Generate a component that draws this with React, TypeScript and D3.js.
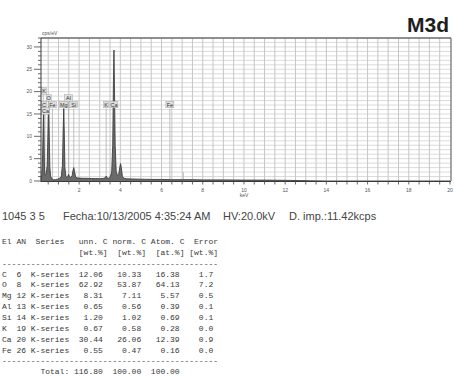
import * as d3 from 'd3'

const title = 'M3d'

// EDS spectrum (keV, cps/eV)
const spectrumKeV = [
  0.15, 0.19, 0.22, 0.25, 0.277, 0.3, 0.32, 0.35, 0.4, 0.45, 0.48, 0.505, 0.525, 0.55, 0.58, 0.62,
  0.68, 0.75, 0.85, 0.95, 1.05, 1.13, 1.19, 1.225, 1.254, 1.28, 1.31, 1.36, 1.42, 1.46, 1.49,
  1.53, 1.6, 1.66, 1.7, 1.74, 1.78, 1.83, 1.9, 2.0, 2.2, 2.4, 2.6, 2.8, 3.0, 3.2, 3.28,
  3.313, 3.35, 3.42, 3.5, 3.58, 3.63, 3.665, 3.691, 3.715, 3.75, 3.8, 3.86, 3.92, 3.97, 4.01,
  4.05, 4.1, 4.18, 4.3, 4.6, 5.0, 5.5, 6.0, 6.5, 7.0, 7.5, 8.0, 9.0, 10.0, 11.0, 12.0, 12.7,
  13.2, 14.0, 16.0, 18.0, 20.0,
]
const spectrumCps = [
  0.3, 1.5, 4.0, 10.5, 15.3, 8.0, 2.6, 1.3, 1.5, 3.5, 9.0, 14.5, 16.7, 10.0, 3.0, 1.0,
  0.5, 0.3, 0.3, 0.4, 0.6, 0.9, 3.5, 11.0, 16.2, 10.5, 3.0, 1.0, 0.8, 1.1, 1.5,
  0.9, 0.8, 1.2, 2.3, 3.0, 2.1, 0.9, 0.7, 0.65, 0.6, 0.6, 0.55, 0.55, 0.5, 0.6, 0.8,
  1.1, 0.7, 0.6, 0.8, 2.0, 8.0, 22.0, 29.3, 21.0, 8.0, 2.2, 1.2, 1.5, 3.0, 3.9,
  3.0, 1.0, 0.6, 0.5, 0.45, 0.4, 0.35, 0.35, 0.3, 0.3, 0.3, 0.25, 0.25, 0.2, 0.2, 0.15, 0.1,
  0.05, 0, 0, 0, 0,
]

// element markers
const markerElements = ['K', 'O', 'Al', 'C', 'Fe', 'Mg', 'Si', 'K', 'Ca', 'Fe', 'Ca']
const markerEnergies = [0.26, 0.525, 1.487, 0.277, 0.705, 1.254, 1.74, 3.313, 3.691, 6.404, 0.341]
const minorMarkerEnergies = [7.058]
const minorMarkerCps = [2.0]

const xTickLabels = [2, 4, 6, 8, 10, 12, 14, 16, 18, 20]
const yTickLabels = [0, 5, 10, 15, 20, 25, 30]

const infoParts = ['1045 3 5', 'Fecha:10/13/2005 4:35:24 AM', 'HV:20.0kV', 'D. imp.:11.42kcps']

// quantification table
const tableEl = ['C', 'O', 'Mg', 'Al', 'Si', 'K', 'Ca', 'Fe']
const tableAN = [6, 8, 12, 13, 14, 19, 20, 26]
const tableUnn = ['12.06', '62.92', '8.31', '0.65', '1.20', '0.67', '30.44', '0.55']
const tableNorm = ['10.33', '53.87', '7.11', '0.56', '1.02', '0.58', '26.06', '0.47']
const tableAtom = ['16.38', '64.13', '5.57', '0.39', '0.69', '0.28', '12.39', '0.16']
const tableErr = ['1.7', '7.2', '0.5', '0.1', '0.1', '0.0', '0.9', '0.0']
const totals = ['116.80', '100.00', '100.00']

const labelTier = [0, 1, 1, 2, 2, 2, 2, 2, 2, 2, 3]
const infoX = [2, 63, 223, 289]

export default function App() {
  const width = 454
  const height = 376
  const plot = { left: 41, right: 451, top: 38, bottom: 181 }
  const x = d3.scaleLinear().domain([0.15, 20]).range([plot.left, 450])
  const y = d3.scaleLinear().domain([0, 32]).range([plot.bottom, plot.top])

  const points = spectrumKeV.map((k, i) => [k, spectrumCps[i]] as [number, number])
  const area = d3
    .area<[number, number]>()
    .x((d) => x(d[0]))
    .y0(y(0))
    .y1((d) => y(d[1]))
  const line = d3
    .line<[number, number]>()
    .x((d) => x(d[0]))
    .y((d) => y(d[1]))

  const vGrid = d3.range(0.5, 20, 0.5)
  const hGrid = d3.range(1, 32, 1)
  const yMinor = d3.range(0, 33, 1)

  const tierY = [91, 98, 104.5, 111]
  const labelFont = 'Liberation Sans, Arial, sans-serif'
  const mono = "'Courier New', 'Liberation Mono', monospace"

  const rows = tableEl.map(
    (el, i) =>
      el.padEnd(3) +
      String(tableAN[i]).padEnd(3) +
      'K-series' +
      tableUnn[i].padStart(7) +
      tableNorm[i].padStart(8) +
      tableAtom[i].padStart(8) +
      tableErr[i].padStart(7),
  )
  const tableLines = [
    'El AN  Series   unn. C norm. C Atom. C  Error',
    '                [wt.%]  [wt.%]  [at.%] [wt.%]',
    '-'.repeat(45),
    ...rows,
    '-'.repeat(45),
    '        Total:' + totals[0].padStart(7) + totals[1].padStart(8) + totals[2].padStart(8),
  ]

  return (
    <svg
      width={width}
      height={height}
      style={{ position: 'absolute', left: 0, top: 0, background: '#fff' }}
    >
      <text
        x={449}
        y={32}
        textAnchor="end"
        fontFamily={labelFont}
        fontWeight="bold"
        fontSize={21}
        fill="#1e1e1e"
      >
        {title}
      </text>

      {/* grid */}
      {hGrid.map((t) => (
        <line key={'h' + t} x1={plot.left} x2={plot.right} y1={y(t)} y2={y(t)} stroke="#d2d2d2" strokeWidth={0.8} />
      ))}
      {vGrid.map((t) => (
        <line key={'v' + t} x1={x(t)} x2={x(t)} y1={plot.top} y2={plot.bottom} stroke="#c6c6c6" strokeWidth={1} />
      ))}

      {/* element marker lines */}
      {markerEnergies.map((e, i) => (
        <line
          key={'m' + i}
          x1={x(e)}
          x2={x(e)}
          y1={tierY[labelTier[i]] + 4}
          y2={y(0.2)}
          stroke="#b0b0b0"
          strokeWidth={0.8}
        />
      ))}
      {minorMarkerEnergies.map((e, i) => (
        <line key={'mm' + i} x1={x(e)} x2={x(e)} y1={y(minorMarkerCps[i])} y2={y(0)} stroke="#bdbdbd" strokeWidth={1} />
      ))}

      {/* spectrum */}
      <path d={area(points) ?? ''} fill="#6a6a6a" />
      <path d={line(points) ?? ''} fill="none" stroke="#404040" strokeWidth={0.9} />

      {/* element labels */}
      {markerElements.map((el, i) => {
        const w = el.length > 1 ? 8 : 5
        const cx = Math.max(x(markerEnergies[i]), plot.left + w / 2 + 0.5)
        return (
          <g key={'l' + i} transform={`translate(${cx},${tierY[labelTier[i]]})`}>
            <rect x={-w / 2} y={-3.3} width={w} height={6.6} fill="#dedede" stroke="#999" strokeWidth={0.4} />
            <text y={2} textAnchor="middle" fontSize={5.5} fontFamily={labelFont} fill="#333">
              {el}
            </text>
          </g>
        )
      })}

      {/* frame */}
      <line x1={plot.left} x2={plot.right} y1={plot.top} y2={plot.top} stroke="#6a6a6a" strokeWidth={1.4} />
      <line x1={plot.right} x2={plot.right} y1={plot.top} y2={plot.bottom} stroke="#6a6a6a" strokeWidth={1.2} />
      <line x1={plot.left} x2={plot.left} y1={plot.top} y2={plot.bottom + 1} stroke="#3a3a3a" strokeWidth={1} />
      <line x1={plot.left} x2={plot.right} y1={plot.bottom + 0.5} y2={plot.bottom + 0.5} stroke="#3a3a3a" strokeWidth={1} />

      {/* y axis */}
      {yMinor.map((t) => (
        <line
          key={'yt' + t}
          x1={plot.left - (t % 5 === 0 ? 7 : 3)}
          x2={plot.left}
          y1={y(t)}
          y2={y(t)}
          stroke="#444"
          strokeWidth={0.8}
        />
      ))}
      {yTickLabels.map((t) => (
        <text key={'yl' + t} x={plot.left - 9} y={y(t) + 1.7} textAnchor="end" fontSize={5} fontFamily={labelFont} fill="#555">
          {t}
        </text>
      ))}
      <text x={plot.left + 1} y={35} fontSize={5} fontFamily={labelFont} fill="#555">
        cps/eV
      </text>

      {/* x axis */}
      {vGrid.concat([20]).map((t) => (
        <line key={'xt' + t} x1={x(t)} x2={x(t)} y1={plot.bottom} y2={plot.bottom + 3.5} stroke="#444" strokeWidth={0.8} />
      ))}
      {xTickLabels.map((t) => (
        <text key={'xl' + t} x={x(t)} y={plot.bottom + 11} textAnchor="middle" fontSize={5} fontFamily={labelFont} fill="#555">
          {t}
        </text>
      ))}
      <text x={x(10)} y={plot.bottom + 16} textAnchor="middle" fontSize={5} fontFamily={labelFont} fill="#555">
        keV
      </text>

      {/* info line */}
      {infoParts.map((s, i) => (
        <text key={'i' + i} x={infoX[i]} y={220} fontSize={11} fontFamily={labelFont} fill="#444">
          {s}
        </text>
      ))}

      {/* table */}
      {tableLines.map((s, i) => (
        <text
          key={'t' + i}
          x={2}
          y={244 + i * 10.85}
          fontSize={8}
          fontFamily={mono}
          fill="#383838"
          style={{ whiteSpace: 'pre' }}
        >
          {s}
        </text>
      ))}
    </svg>
  )
}
